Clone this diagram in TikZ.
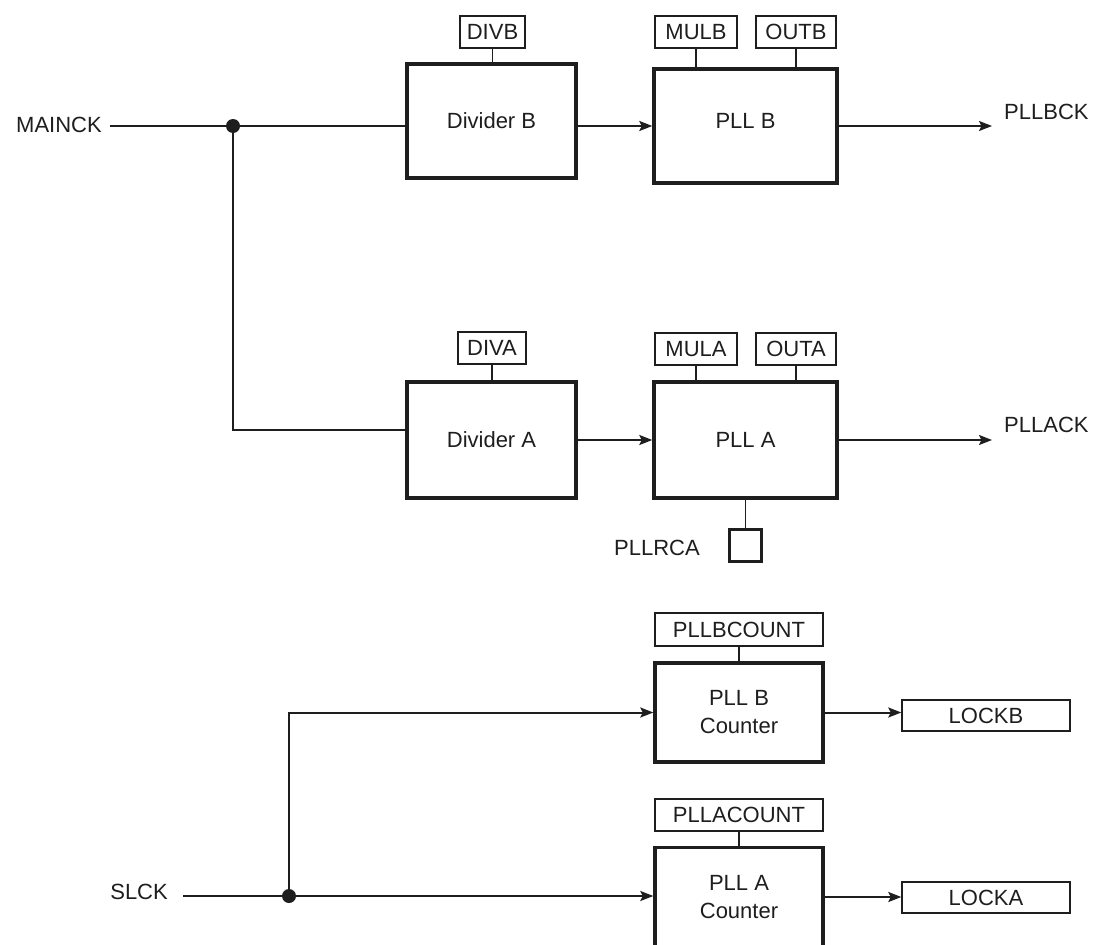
\documentclass[tikz,border=0pt]{standalone}
\usepackage{fontspec}
\setmainfont{Liberation Sans}
\usetikzlibrary{arrows.meta,calc}
\definecolor{ink}{HTML}{1E1E1E}
\begin{document}
\begin{tikzpicture}[x=1pt,y=-1pt,
  every node/.style={font=\fontsize{22}{28}\selectfont, text=ink},
  blk/.style={draw=ink, line width=3.4pt, inner sep=0pt, align=center},
  lbl/.style={draw=ink, line width=1.4pt, inner sep=0pt, minimum height=32pt},
  plain/.style={inner sep=0pt},
  wire/.style={draw=ink, line width=2pt},
  stub/.style={draw=ink, line width=1.5pt},
  arr/.style={wire, -{Stealth[length=13pt,width=10pt,inset=2.5pt]}},
  jdot/.style={circle, fill=ink, inner sep=0pt, minimum size=14pt},
  raise/.style={text height=16pt, text depth=12pt}
]
\useasboundingbox (0,0) rectangle (1095,945);
\fill[white] (0,0) rectangle (1095,945);

% ---- top row (B) ----
\node[blk, minimum width=169pt, minimum height=114pt] (divB) at (491.5,121) {Divider B};
\node[blk, raise, minimum width=183pt, minimum height=114pt] (pllB) at (745.5,126) {PLL B};
\node[lbl, minimum width=65pt] (divb) at (492.5,32) {DIVB};
\node[lbl, minimum width=82pt] (mulb) at (696,32) {MULB};
\node[lbl, minimum width=80pt] (outb) at (796,32) {OUTB};
\node[plain, anchor=west] (pllbck) at (1004,112) {PLLBCK};
\node[plain, anchor=east] (mainck) at (102,125) {MAINCK};
\node[jdot] (dot) at (233,126) {};
\coordinate (bend) at (992,126);

\draw[wire] ($(mainck.east |- dot)+(8,0)$) -- (dot.center) -- (dot.center -| divB.west);
\draw[arr] (divB.east |- pllB.west) -- (pllB.west);
\draw[arr] (pllB.east) -- (bend);
\draw[stub] (divb.south) -- (divb.south |- divB.north);
\draw[stub] (mulb.south) -- (mulb.south |- pllB.north);
\draw[stub] (outb.south) -- (outb.south |- pllB.north);

% ---- middle row (A) ----
\node[blk, minimum width=169pt, minimum height=116pt] (divA) at (491.5,440) {Divider A};
\node[blk, minimum width=183pt, minimum height=116pt] (pllA) at (745.5,440) {PLL A};
\node[lbl, minimum width=68pt] (diva) at (492,348) {DIVA};
\node[lbl, minimum width=82pt] (mula) at (696,349) {MULA};
\node[lbl, minimum width=80pt] (outa) at (796,349) {OUTA};
\node[plain, anchor=west] (pllack) at (1004,425) {PLLACK};
\coordinate (turnA) at (233,430);
\coordinate (aend) at (992,440);

\draw[wire] (dot.center) -- (turnA) -- (turnA -| divA.west);
\draw[arr] (divA.east |- pllA.west) -- (pllA.west);
\draw[arr] (pllA.east) -- (aend);
\draw[stub] (diva.south) -- (diva.south |- divA.north);
\draw[stub] (mula.south) -- (mula.south |- pllA.north);
\draw[stub] (outa.south) -- (outa.south |- pllA.north);

% PLLRCA
\node[draw=ink, line width=3pt, minimum size=32pt, inner sep=0pt] (rca) at (745.5,545.5) {};
\node[plain, anchor=east] (rcalbl) at (700,548) {PLLRCA};
\draw[stub] (rca.north) -- (rca.north |- pllA.south);

% ---- counters ----
\node[blk, minimum width=168pt, minimum height=99pt] (cntB) at (739,712.5) {PLL B\\Counter};
\node[lbl, minimum width=168pt, minimum height=33pt] (cntbl) at (739,629.5) {PLLBCOUNT};
\node[blk, minimum width=168pt, minimum height=99pt] (cntA) at (739,897) {PLL A\\Counter};
\node[lbl, minimum width=168pt, minimum height=32pt] (cntal) at (739,815) {PLLACOUNT};
\node[lbl, minimum width=168pt, minimum height=31pt] (lockb) at (986,715.5) {LOCKB};
\node[lbl, minimum width=168pt, minimum height=31pt] (locka) at (986,897.5) {LOCKA};
\draw[stub] (cntbl.south) -- (cntbl.south |- cntB.north);
\draw[stub] (cntal.south) -- (cntal.south |- cntA.north);
\draw[arr] (cntB.east) -- (cntB.east -| lockb.west);
\draw[arr] (cntA.east) -- (cntA.east -| locka.west);

\node[plain, anchor=east] (slck) at (168,892) {SLCK};
\node[jdot] (dot2) at (289,896) {};
\draw[wire] ($(slck.east |- dot2)+(15,0)$) -- (dot2.center);
\draw[arr] (dot2.center) -- (dot2.center -| cntA.west);
\draw[arr] (dot2.center) |- (cntB.west);
\end{tikzpicture}
\end{document}
